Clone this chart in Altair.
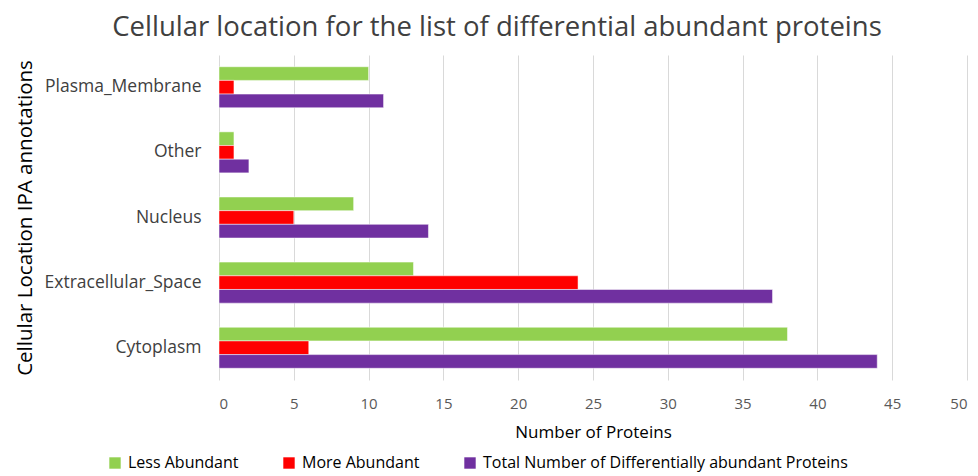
import altair as alt
import pandas as pd

categories = ["Plasma_Membrane", "Other", "Nucleus", "Extracellular_Space", "Cytoplasm"]
series = ["Less Abundant", "More Abundant", "Total Number of Differentially abundant Proteins"]
less_abundant = [10, 1, 9, 13, 38]
more_abundant = [1, 1, 5, 24, 6]
total = [11, 2, 14, 37, 44]
colors = ["#92D050", "#FF0000", "#7030A0"]

rows = []
for i, c in enumerate(categories):
    for s, vals in zip(series, [less_abundant, more_abundant, total]):
        rows.append({"category": c, "series": s, "value": vals[i]})
df = pd.DataFrame(rows)

FONT = "Open Sans"

chart = alt.Chart(df).mark_bar(stroke="white", strokeWidth=0.5).encode(
    x=alt.X("value:Q",
            scale=alt.Scale(domain=[0, 50], nice=False),
            axis=alt.Axis(values=list(range(0, 55, 5)), title="Number of Proteins",
                          grid=True, gridColor="#d9d9d9", domain=False, ticks=False,
                          labelPadding=16, titlePadding=13, labelFontSize=15,
                          titleFontSize=17, labelColor="#595959", titleColor="#000000",
                          titleFontWeight="normal", labelFont=FONT, titleFont=FONT)),
    y=alt.Y("category:N", sort=categories,
            scale=alt.Scale(paddingInner=0.37, paddingOuter=0.18),
            axis=alt.Axis(title="Cellular Location IPA annotations", domain=False, ticks=False,
                          labelPadding=18, titlePadding=9, labelFontSize=17.5,
                          titleFontSize=20.5, labelColor="#404040", titleColor="#000000",
                          titleFontWeight="normal", labelFont=FONT, titleFont=FONT)),
    yOffset=alt.YOffset("series:N", sort=series),
    color=alt.Color("series:N", sort=series,
                    scale=alt.Scale(domain=series, range=colors),
                    legend=alt.Legend(title=None, orient="none", direction="horizontal",
                                      legendX=-112, legendY=400, symbolType="square",
                                      symbolSize=130, symbolStrokeWidth=0,
                                      labelFontSize=16, labelFont=FONT, labelColor="#000000",
                                      labelLimit=0, columnPadding=42, labelOffset=5)),
).properties(
    width=748,
    height=325,
    title=alt.TitleParams("Cellular location for the list of differential abundant proteins",
                          fontSize=27.5, font=FONT, fontWeight="normal", color="#404040",
                          anchor="middle", dx=-96, offset=14),
    autosize=alt.AutoSizeParams(type="none"),
    padding={"left": 211, "top": 47, "right": 3, "bottom": 100},
).configure_view(stroke=None)

chart.save("out.html", embed_options={"renderer": "svg", "actions": False})
